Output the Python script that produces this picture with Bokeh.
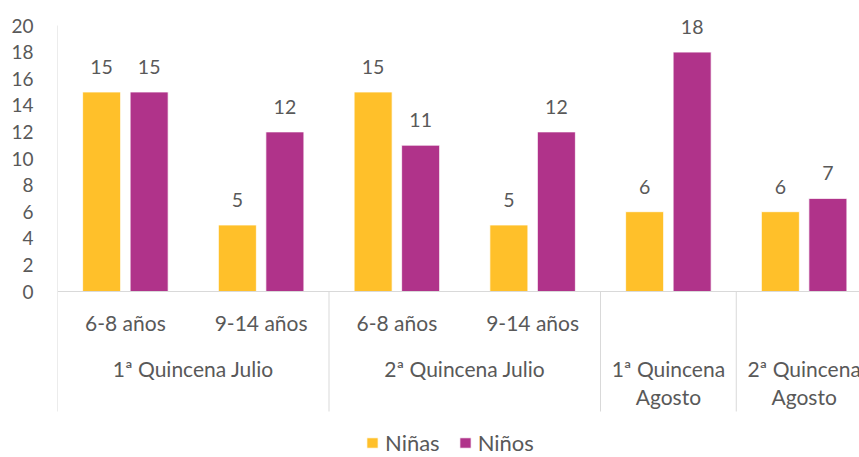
from bokeh.plotting import figure
from bokeh.models import ColumnDataSource, Range1d, FixedTicker, Legend, LegendItem, Span
from bokeh.core.properties import value
from bokeh.embed import file_html
from bokeh.resources import INLINE

# ---------------- data ----------------
GROUPS = ["1ª Quincena Julio", "2ª Quincena Julio", "1ª Quincena\nAgosto", "2ª Quincena\nAgosto"]
SUBCATS = ["6-8 años", "9-14 años", "6-8 años", "9-14 años", "", ""]
SLOT_GROUP = [0, 0, 1, 1, 2, 3]
NINAS = [15, 5, 15, 5, 6, 6]
NINOS = [15, 12, 11, 12, 18, 7]
SERIES = ["Niñas", "Niños"]
Y_TICKS = [0, 2, 4, 6, 8, 10, 12, 14, 16, 18, 20]

# ---------------- style ----------------
FONT = "Lato"
TXT = "#595959"
GRID = "#D9D9D9"
COLORS = ["#FFC02A", "#B0338A"]
PX_PER_UNIT = 266 / 20.0          # vertical pixels per value unit
TOP_PX = 25                       # frame extends this far above the top tick
BOTTOM_PX = 166                   # frame extends this far below zero
SEP_PX = 120                      # separator length below zero
BAR_W = 0.28
DODGE = 0.175
W, H = 859, 457
LEFT = 57
SLOT_PX = 135.75

y_max = Y_TICKS[-1] + TOP_PX / PX_PER_UNIT
y_min = -BOTTOM_PX / PX_PER_UNIT
y_sep = -SEP_PX / PX_PER_UNIT
x_max = (W - LEFT) / SLOT_PX

p = figure(width=W, height=H, output_backend="svg", toolbar_location=None,
           x_range=Range1d(0, x_max), y_range=Range1d(y_min, y_max),
           x_axis_location=None, min_border_left=LEFT, min_border_top=0,
           min_border_right=0, min_border_bottom=0)
p.outline_line_color = None
p.grid.visible = False
p.background_fill_color = "white"

yax = p.yaxis[0]
yax.ticker = FixedTicker(ticks=Y_TICKS)
yax.axis_line_color = None
yax.major_tick_line_color = None
yax.minor_tick_line_color = None
yax.major_tick_out = 0
yax.major_tick_in = 0
yax.major_label_standoff = 24
yax.major_label_text_font = FONT
yax.major_label_text_font_size = "19px"
yax.major_label_text_color = TXT

n = len(NINAS)
centers = [i + 0.5 for i in range(n)]
src = ColumnDataSource(dict(
    x0=[c - DODGE for c in centers], x1=[c + DODGE for c in centers],
    ninas=NINAS, ninos=NINOS,
    l0=[str(v) for v in NINAS], l1=[str(v) for v in NINOS],
))

# axis lines and separators
p.add_layout(Span(location=0, dimension="width", line_color=GRID, line_width=1))
p.segment(x0=[0], y0=[Y_TICKS[-1]], x1=[0], y1=[0], line_color=GRID, line_width=1)
bounds = [0]
for i in range(1, n):
    if SLOT_GROUP[i] != SLOT_GROUP[i - 1]:
        bounds.append(i)
bounds.append(n)
p.segment(x0=bounds, y0=[0] * len(bounds), x1=bounds, y1=[y_sep] * len(bounds),
          line_color=GRID, line_width=1)

r0 = p.vbar(x="x0", top="ninas", bottom=0, width=BAR_W, source=src,
            fill_color=COLORS[0], line_color="white", line_width=0.75)
r1 = p.vbar(x="x1", top="ninos", bottom=0, width=BAR_W, source=src,
            fill_color=COLORS[1], line_color="white", line_width=0.75)

for xcol, ycol, lcol in (("x0", "ninas", "l0"), ("x1", "ninos", "l1")):
    p.text(x=xcol, y=ycol, text=lcol, source=src, y_offset=-25,
           text_align="center", text_baseline="middle",
           text_font=value(FONT), text_font_size="19.5px", text_color=TXT)

# sub-category labels
sub_x = [c for c, s in zip(centers, SUBCATS) if s]
sub_t = [s for s in SUBCATS if s]
p.text(x=sub_x, y=[0] * len(sub_x), text=sub_t, y_offset=31,
       text_align="center", text_baseline="middle",
       text_font=value(FONT), text_font_size="21px", text_color=TXT)

# group labels
gx, gt, goff = [], [], []
for g, name in enumerate(GROUPS):
    slots = [i for i in range(n) if SLOT_GROUP[i] == g]
    cx = (min(slots) + max(slots) + 1) / 2.0
    for k, line in enumerate(name.split("\n")):
        gx.append(cx)
        gt.append(line)
        goff.append(77 + 28 * k)
gsrc = ColumnDataSource(dict(x=gx, y=[0] * len(gx), t=gt, off=goff))
p.text(x="x", y="y", text="t", y_offset="off", source=gsrc,
       text_align="center", text_baseline="middle",
       text_font=value(FONT), text_font_size="21px", text_color=TXT)

legend = Legend(items=[LegendItem(label=SERIES[0], renderers=[r0]),
                       LegendItem(label=SERIES[1], renderers=[r1])],
                orientation="horizontal", location=(308, 1),
                border_line_color=None, background_fill_alpha=0,
                padding=0, margin=0, spacing=18, label_standoff=6,
                glyph_width=14, glyph_height=13, label_height=13,
                label_text_font=FONT, label_text_font_size="22px",
                label_text_color=TXT)
p.add_layout(legend)

open("out.html", "w").write(file_html(p, INLINE))
